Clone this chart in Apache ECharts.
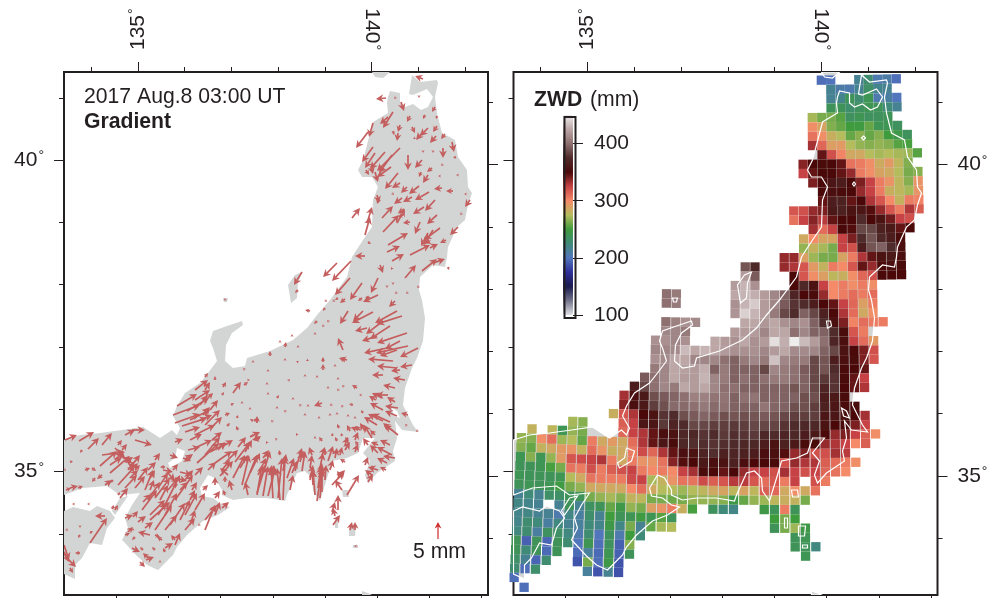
<!DOCTYPE html>
<html><head><meta charset="utf-8"><style>html,body{margin:0;background:#fff}#c{width:988px;height:598px}</style>
<script src="https://cdn.jsdelivr.net/npm/echarts@6/dist/echarts.min.js"></script></head>
<body><div id="c"></div><script>
// Map-grid units: the map's own projected grid. Both panels share the same grid extents.
const gridXRange=[64,488], gridYRange=[72,595];
const lonTicks=[134,135,136,137,138,139,140,141,142];
const latTicks=[34,35,36,37,38,39,40,41];
const zwdTicks=[100,200,300,400];
const zwdRange=[100,450];
const zwdColors=['#dfdfe6','#74748c','#1a1a4e','#2f309a','#5276bc','#3f8a78','#3f9c3c','#b5bc5c','#f58a68','#c74245','#4a0808','#4f2b2b','#8e7070','#bca6a6','#efecec'];

// Coast polygons in map-grid units
const honshu=[[388,97],[390,91],[400,93],[400,103],[405,107],[413,104],[421,110],[428,107],[433,97],[427,89],[413,95],[409,94],[412,75],[420,82],[437,80],[438,83],[435,97],[437,113],[442,133],[455,140],[458,157],[467,170],[468,187],[472,193],[468,205],[465,220],[457,227],[448,247],[447,257],[445,267],[433,265],[420,277],[419,290],[422,300],[425,318],[423,341],[417,358],[412,368],[405,388],[403,405],[413,425],[418,432],[410,431],[402,430],[395,421],[397,438],[393,451],[395,461],[377,473],[368,483],[365,475],[370,461],[363,453],[375,438],[363,438],[358,453],[347,458],[332,461],[328,475],[320,501],[313,491],[312,478],[305,471],[297,473],[287,495],[285,501],[267,498],[247,498],[233,500],[222,495],[222,490],[215,478],[208,475],[200,488],[202,496],[213,498],[222,505],[230,507],[218,515],[203,521],[187,535],[177,547],[173,555],[165,563],[158,570],[147,565],[137,556],[125,543],[122,540],[128,528],[125,518],[132,505],[140,493],[120,495],[107,486],[83,488],[64,495],[64,440],[80,435],[100,433],[122,430],[143,427],[160,438],[172,430],[177,435],[180,428],[173,416],[177,406],[185,393],[200,383],[208,373],[217,361],[213,348],[210,341],[213,331],[227,326],[242,321],[243,325],[232,333],[226,345],[225,361],[233,368],[245,366],[247,358],[270,351],[293,340],[307,328],[317,315],[330,300],[347,277],[352,257],[363,240],[372,227],[373,200],[378,187],[372,177],[362,177],[358,170],[363,160],[373,122],[388,113],[387,103]];
const shikoku=[[64,511],[73,507],[90,511],[97,506],[110,511],[115,518],[107,528],[102,545],[90,543],[82,558],[75,565],[75,579],[64,574]];
const awaji=[[120,498],[128,496],[115,515],[112,511]];
const sado=[[302,272],[298,283],[297,298],[291,303],[288,285],[295,275]];
const hokkaido=[[372,72],[390,72],[383,78],[375,77]];
const oki=[[223,298],[228,298],[227,302],[224,302]];
const oshima=[[342,490],[348,490],[349,497],[343,497]];
const niijima=[[335,518],[338,518],[338,528],[335,528]];
const miyake=[[349,526],[356,526],[355,536],[349,536]];
const mikura=[[353,545],[358,545],[358,548],[353,548]];
const hachijo=[[362,591],[368,593],[372,595],[362,595]];
const coastPolys=[honshu,shikoku,awaji,sado,hokkaido,oki,oshima,niijima,miyake,mikura,hachijo];
const lakeBiwa=[[177,448],[185,451],[182,461],[170,468],[168,463],[175,458]];
const lakeKasumi=[[392,408],[397,411],[400,418],[394,416]];
const lakeTowada=[[414,136],[416,138],[414,140],[412,138]];
const lakeTazawa=[[404.5,182],[406,184],[404.5,186],[403,184]];
const lakeInawashiro=[[377,321],[381,321],[382,326],[378,328]];
const lakes=[lakeBiwa,lakeKasumi,lakeTowada,lakeTazawa,lakeInawashiro];

// Gradient arrows: tail x, tail y, east, south in map-grid units
const arrowsTohokuN=[[423,79,-8,-3],[386,98,-10,1],[396,97,-2,2],[419,95,0,3],[401,102,3,9],[435,107,-3,5],[410,116,-3,6],[425,115,-2,4],[437,116,-1,3],[393,112,-10,16],[388,117,-8,7],[373,123,-4,14],[368,132,-12,16],[400,125,-2,7],[393,131,1,4],[398,133,-1,8],[412,127,3,6],[437,126,-4,6],[428,128,-8,8],[422,133,-6,7],[436,136,-6,7],[445,134,-4,5],[415,138,-2,1],[452,142,2,10],[443,148,0,10],[423,151,0,2],[433,151,0,2],[456,157,-3,1],[373,147,-11,15],[375,153,-10,15],[385,152,-15,17],[400,148,-23,23],[392,155,-13,18],[408,155,0,15],[422,160,-7,8],[391,167,-14,10],[375,172,3,10],[398,173,-13,16],[400,183,-8,5],[421,172,-2,5],[432,168,-5,4],[428,175,-5,8],[442,165,-1,1],[458,175,-2,0],[440,176,-2,0],[393,194,1,1],[407,187,-6,6],[419,186,-10,8],[429,192,-14,8],[412,197,-9,5],[402,198,-8,6],[442,188,-8,1],[453,191,-7,0],[467,194,-3,0],[377,195,2,8],[379,198,-2,6],[470,200,-5,7],[366,170,3,5],[371,166,2,8]];
const arrowsTohokuS=[[352,218,8,-10],[367,223,5,-16],[365,235,5,-18],[382,218,11,-12],[383,232,16,-17],[397,223,8,-14],[435,200,-10,11],[424,207,-11,7],[437,215,-10,9],[404,209,-6,4],[410,222,-7,1],[403,215,-5,2],[462,213,-2,2],[420,222,-5,12],[458,227,-8,8],[440,228,-16,12],[433,230,-9,15],[388,245,20,-12],[387,252,13,-6],[392,261,12,-7],[410,255,20,-10],[428,233,-7,13],[430,248,8,-4],[425,240,6,4],[446,240,-6,3],[368,242,3,2],[365,256,-10,0],[405,278,11,-13],[422,271,15,-12],[433,263,12,-4],[380,265,3,8],[392,268,-1,2],[448,267,1,3],[337,263,-14,14],[351,261,-19,20],[350,278,-15,17],[362,283,-12,17],[378,278,-7,15],[387,285,0,3],[393,283,0,2],[302,272,-8,13],[298,290,-3,3],[378,295,-15,7],[396,293,-1,1],[407,293,-1,1],[418,287,-1,1],[345,299,-5,4],[325,300,2,2],[338,298,-3,2],[362,298,-4,3],[370,298,-5,-1],[225,299,0,-1]];
const arrowsKanto=[[348,311,-8,13],[373,312,-21,11],[363,311,-10,10],[397,311,-22,12],[402,316,-25,8],[395,301,-6,6],[383,321,-17,13],[390,326,-20,13],[407,333,-30,10],[400,341,-15,8],[408,346,-32,7],[418,348,-18,9],[397,350,-17,6],[343,350,-5,-12],[347,360,-7,-2],[367,328,-12,3],[377,336,-15,5],[387,348,-23,5],[393,361,-25,-2],[397,368,-20,-2],[400,370,-9,1],[412,365,-12,2],[405,380,-12,-2],[395,388,-12,-3],[383,375,-11,0],[388,395,-12,0],[382,398,-10,-5],[408,415,-7,-2],[383,410,-13,-7],[398,408,-13,-2],[397,416,-12,-5],[383,421,-15,-7],[398,435,-15,-12],[390,422,-18,-8],[377,425,-13,-8],[372,438,-8,-13],[358,430,-7,-3],[417,431,-1,1],[407,426,-2,-2],[390,445,-10,-5],[378,445,-7,-3],[392,455,-15,-8],[395,458,-12,-2],[387,463,-10,-5],[378,470,-10,-3],[372,475,-7,-5],[386,470,-6,-3],[395,402,-8,-5],[376,400,-7,-4],[392,430,-8,-4]];
const arrowsCentral=[[270,356,0,-5],[285,347,1,-5],[292,336,0,-2],[280,341,0,-1],[253,361,0,-1],[245,370,-2,-2],[268,371,0,-2],[285,360,0,-2],[297,362,2,-1],[308,360,-2,1],[323,362,0,-5],[323,370,0,-6],[335,365,0,-1],[345,360,-6,-2],[315,333,0,-1],[298,346,0,-1],[323,326,-1,1],[317,321,-3,3],[328,321,-1,-1],[310,311,-5,-1],[325,308,-2,3],[333,300,2,2],[248,380,2,0],[267,383,0,-1],[305,376,0,-2],[317,376,0,-1],[338,378,0,-1],[343,386,-1,-1],[328,388,0,-2],[357,388,-5,-3],[268,393,0,-1],[277,398,2,-3],[293,398,0,-1],[300,405,-1,-1],[277,408,0,-2],[285,411,-1,-1],[308,405,0,-1],[322,403,-8,3],[342,406,-1,-1],[353,405,-4,-1],[305,415,0,-2],[319,418,0,-2],[330,415,0,-2],[337,413,0,-1],[348,416,0,-2],[355,418,0,-2],[363,413,-2,-3],[223,387,3,-5],[222,395,2,-3],[233,393,8,-11],[231,405,3,-2],[242,403,0,-2],[250,408,0,-1],[253,421,-3,-2],[257,423,0,-7],[237,418,1,-3],[227,426,3,-3],[238,430,-2,-4],[252,436,1,-2],[260,438,-8,2],[267,443,-1,-2],[277,440,-2,-2],[297,435,-1,-2],[322,441,-3,-4],[332,436,1,-3],[342,436,-1,-3],[350,431,-3,-6],[360,430,-5,-4],[365,431,-5,-8],[375,435,-5,-5],[339,428,-2,-4],[315,438,0,-2],[348,441,-3,-4],[358,445,-3,-4],[337,441,-2,-4],[205,377,3,-4],[215,380,0,-4],[244,385,4,-3],[258,420,-5,0],[272,421,-1,-1],[289,380,1,-1],[338,390,-1,1],[360,395,-1,0],[331,405,-1,1]];
const arrowsSouth=[[283,500,2,-43],[280,500,-3,-32],[278,498,4,-40],[273,498,-2,-30],[268,496,7,-28],[263,496,5,-30],[257,495,5,-30],[257,493,13,-42],[248,495,-3,-13],[245,485,12,-30],[242,485,7,-30],[233,478,12,-23],[287,478,7,-20],[295,471,7,-23],[302,471,3,-20],[310,468,2,-13],[292,473,5,-12],[320,468,3,-15],[328,461,5,-15],[335,458,2,-10],[270,475,2,-10],[283,471,3,-17],[258,475,8,-17],[250,473,10,-20],[240,468,8,-13],[317,501,5,-33],[320,498,2,-28],[315,495,-2,-25],[322,492,0,-25],[318,488,3,-22],[325,480,1,-15],[313,485,-1,-15],[320,475,2,-12],[332,485,12,-13],[347,495,12,-20],[342,490,-7,-10],[338,478,7,-8],[342,478,-5,-7],[333,525,7,-10],[335,516,-2,-8],[338,510,0,-15],[332,512,3,-10],[350,530,2,-8],[355,530,0,-8],[355,546,-1,0],[378,453,-8,-8],[365,465,3,-8],[368,482,5,-8],[372,470,0,-5],[345,450,5,-8],[355,452,3,-8],[345,462,-5,-3],[312,455,-3,-8],[322,455,3,-8],[300,457,4,-6],[280,455,-1,-5],[263,458,6,-8],[260,480,5,-15],[272,485,2,-20],[290,490,3,-15],[300,462,3,-10],[310,480,3,-15],[330,470,3,-10],[345,445,3,-8],[340,455,2,-8],[355,440,3,-8],[368,445,-5,-7],[325,455,0,-6]];
const arrowsChubuW=[[173,415,27,-10],[175,423,25,-9],[182,426,25,-8],[177,406,20,-12],[187,411,22,-13],[195,390,13,-10],[205,390,5,-8],[208,398,5,-5],[203,415,7,-8],[190,420,20,-10],[200,420,12,-5],[205,425,15,-15],[212,427,10,-10],[225,415,5,-2],[195,435,20,-10],[185,432,15,-5],[175,442,8,-3],[188,450,12,-3],[197,447,15,-7],[205,455,15,-18],[197,463,22,-20],[215,463,17,-12],[225,445,8,-5],[238,447,8,-10],[226,462,12,-12],[210,452,17,-9],[235,462,15,-20],[245,452,7,-12],[255,440,6,-4],[228,475,-8,-7],[232,490,-3,-10],[225,482,0,-6],[173,470,5,-6],[170,455,8,3],[183,458,8,3],[220,476,13,-15],[250,437,10,-5],[200,405,8,-10],[210,410,8,-10],[195,400,15,-10],[190,440,12,-6],[212,440,10,-8],[218,450,7,-8],[222,470,8,-10],[208,470,8,-8],[215,485,0,-8],[225,495,-2,-5]];
const arrowsKinki=[[65,440,12,-5],[79,441,15,-9],[88,449,11,-11],[102,445,10,-12],[125,435,10,-5],[132,430,13,0],[135,440,17,5],[100,466,17,-15],[102,455,23,-3],[110,473,20,-17],[118,485,20,-22],[115,448,10,10],[120,455,12,8],[128,462,6,10],[82,450,-2,3],[70,462,3,-1],[65,470,1,1],[92,468,4,3],[102,475,-5,4],[113,480,-3,3],[128,470,12,-15],[138,480,10,-13],[148,470,8,-8],[155,460,5,-7],[165,467,-5,0],[125,488,12,-13],[145,490,8,-20],[158,488,10,-15],[163,470,10,2],[150,478,5,-8],[168,473,7,8],[175,478,12,3],[180,472,12,3],[155,498,15,-20],[165,505,15,-30],[175,500,18,-25],[185,480,8,-10],[192,490,5,-8],[142,510,15,-20],[150,520,20,-18],[155,530,17,-25],[170,525,15,-22],[185,515,12,-22],[195,510,10,-17],[205,520,12,-15],[215,515,5,-13],[205,530,10,-25],[200,524,-2,2],[215,498,5,-7],[222,508,7,-6],[190,500,5,-10],[168,490,10,-12],[138,522,8,-6],[125,518,8,-3],[145,528,8,-6],[128,532,5,-5],[133,517,5,-6],[133,530,0,-2],[150,515,15,-15],[143,502,8,-8],[165,530,12,-15],[175,545,5,-12],[185,530,10,-12],[165,548,8,-5],[155,535,5,2],[132,548,8,4],[150,535,-12,-3],[155,550,-3,-3],[135,537,-3,3],[143,550,-3,-3],[125,535,5,-2],[148,558,-5,-5],[146,560,8,-3],[140,562,5,5],[165,552,-2,-4],[162,540,-5,-3],[175,540,-4,-5],[160,562,0,-2],[110,465,12,-8],[115,460,8,-8],[122,450,5,-6],[118,445,4,-5],[125,462,8,-5],[130,465,5,-3],[135,470,5,-5],[130,478,8,-8],[135,488,10,-12],[105,485,7,-5],[95,478,-3,4],[85,470,5,-2],[120,498,8,-10],[115,510,3,-5],[148,500,12,-18],[150,490,4,-10],[160,500,8,-15],[165,515,12,-22],[158,515,8,-12],[180,520,10,-20],[190,525,5,-15],[180,490,8,-8],[173,487,5,-3],[195,475,8,-8],[203,490,5,-5],[185,460,8,-6]];
const arrowsShikoku=[[90,543,17,-25],[105,516,-10,0],[80,525,0,3],[80,535,-2,3],[90,533,3,-2],[67,530,1,1],[64,552,5,10],[66,557,10,10],[70,568,3,5],[80,553,-5,0],[64,545,5,15],[78,510,0,0],[88,504,-1,0],[73,504,-1,0],[66,490,5,-2],[70,488,8,-2],[78,488,5,-2],[112,509,2,-4],[118,495,2,-3]];
const legendArrow=[[438,539,0,-17]];

// ZWD cells: latitude, first longitude, values in mm (null: no cell)
const zwdRows=[
[41.40,140.0,[197,199]],[41.40,140.8,[215,228,205,208,198]],
[41.25,140.2,[215,208,205,215,232,218,215]],
[41.10,140.2,[215,218,238,228,240,205,210,200]],
[40.95,140.2,[238,238,230,236,240,238,225,215]],
[40.80,139.8,[272,262,262,255,235,240,236,236,238]],
[40.65,139.8,[298,288,264,258,250,248,258,240,240,236]],
[40.50,139.8,[308,298,282,275,258,266,258,265,250,245,236]],
[40.35,139.8,[332,312,290,292,275,268,265,268,265,255,252]],
[40.20,140.0,[345,320,302,285,285,275,272,275,272,270,255]],
[40.05,139.6,[338,350,352,350,345,308,305,298,284,292,278,264]],
[39.90,139.6,[325,345,350,350,345,335,305,298,288,285,275,262,265]],
[39.75,139.8,[340,350,360,365,350,340,325,305,295,278,265,295]],
[39.60,140.0,[350,355,352,350,335,325,305,282,278,272,295]],
[39.45,140.0,[345,365,368,345,350,330,318,300,280,305,302]],
[39.30,139.4,[318,320,335,340,362,368,358,360,348,335,318,305,330,315]],
[39.15,139.4,[308,325,338,328,345,350,350,375,350,358,342,325,320]],
[39.00,139.8,[332,310,325,350,348,385,385,368,362,345,350]],
[38.85,139.6,[285,300,288,288,325,340,375,390,372,365,352]],
[38.70,139.6,[268,280,272,262,325,320,365,390,395,375,355]],
[38.55,139.2,[335,335,290,270,262,262,288,305,330,345,358,362,355]],
[38.40,138.4,[390,372]],[38.40,139.2,[335,330,318,292,280,305,300,318,345,335,350,355,352]],
[38.25,138.4,[420,392]],[38.25,139.4,[350,318,298,290,278,282,298,312,320,350,350,350]],
[38.10,138.2,[420,430,415]],[38.10,139.4,[350,372,358,325,300,305,298,305,298]],
[37.95,136.8,[400,405]],[37.95,138.2,[425,430,428,420,410,395,370,350,352,335,300,305,310,305,310]],
[37.80,136.8,[400,405]],[37.80,138.2,[415,430,438,420,410,392,378,375,365,350,345,325,312,290,305]],
[37.65,138.2,[417,440,430,420,405,385,375,395,385,368,350,330,310,285,298]],
[37.50,136.8,[400,408,415,412]],[37.50,138.4,[425,425,418,425,415,410,415,395,375,355,340,302,310,305,305]],
[37.35,136.8,[410,410,405]],[37.35,138.2,[420,420,420,410,425,425,400,410,395,395,375,352,318,305]],
[37.20,136.6,[415,415,410,415]],[37.20,137.8,[425,420,415,425,415,420,445,428,450,432,420,400,370,355,325,310,292]],
[37.05,136.6,[410,410,412,432,425,430,425,420,415,415,415,410,420,425,412,412,410,395,385,358,350,340,320]],
[36.90,136.6,[415,412,425,425,410,410,410,400,395,405,410,405,435,410,405,405,385,390,365,355,352,340,318]],
[36.75,136.6,[405,410,425,422,420,428,395,405,395,395,395,385,410,405,400,392,385,390,375,352,350,345]],
[36.60,136.4,[392,400,410,425,420,420,430,410,405,395,400,395,400,405,405,400,395,385,380,378,352,345,325]],
[36.45,136.2,[365,385,400,410,405,425,420,425,410,400,400,395,395,395,395,395,390,395,385,370,378,350,345,330]],
[36.30,136.0,[332,355,362,388,392,396,400,408,408,402,402,395,400,402,395,396,395,395,388,388,365,362,352]],
[36.15,136.0,[338,355,362,382,388,398,398,400,404,398,400,395,395,395,402,396,395,388,388,382,368,360,352,352]],
[36.00,135.8,[282,318,330,350,358,378,375,388,392,396,392,388,390,388,390,392,390,385,382,382,382,360,360,356,350,332]],
[35.85,135.0,[272,265]],[35.85,136.0,[315,325,360,360,380,370,375,385,385,382,382,380,382,385,385,384,378,375,372,372,358,350,350,340,325]],
[35.70,134.2,[280]],[35.70,134.6,[278,240,268,262]],[35.70,136.0,[312,325,330,345,355,358,372,372,378,375,380,376,378,380,372,375,370,372,365,362,350,335,340,325,315,298]],
[35.55,134.0,[268,265,298,310,270,275,258,305,285,292,285,310,330,345,360,352,372,376,376,378,376,374,372,372,365,358,368,362,352,352,335,330,325,300,315]],
[35.40,134.0,[265,258,280,285,292,295,280,310,295,282,285,305,322,312,330,345,355,358,370,376,368,370,368,365,355,356,348,335,340,320,320,332,328]],
[35.25,134.0,[240,265,240,268,292,318,322,325,330,305,285,305,295,295,308,338,348,350,362,355,358,368,355,350,350,352,320,335,330,330,315,310,305,298]],
[35.10,134.0,[238,238,240,252,262,308,305,320,305,315,320,325,305,300,305,300,325,332,352,350,345,350,335,325,325,320,332,325,320,325,312,308,300]],
[34.95,134.0,[240,238,238,238,240,275,285,308,305,305,305,322,325,272,280,295,308,308,322,315,318,328,328,318,310,318,305,325,null,320,305]],
[34.80,134.0,[238,240,238,240,248,262,268,285,285,285,285,300,310,285,275,275,270,275,278,285,288,278,288,278,315,312,285,298,285,308]],
[34.65,134.0,[215,225,215,232,232,238,238,262,268,272,265,280,278,262,262,260,262,268,268,268,265,245,258,268,270,278,282,280,262]],
[34.50,134.0,[220,218,215,null,215,238,215,235,238,258,245,268,262,290,295,305,282,252,null,236,225,220,null,null,245,238,305,238]],
[34.35,134.0,[218,220,215,215,205,220,210,230,215,250,238,240,248,240,255,238]],[34.35,139.0,[250,262,250]],
[34.20,134.0,[218,228,225,210,222,215,212,225,218,245,220,262,215,258,272,275]],[34.20,139.0,[238,262,270,245]],
[34.05,134.0,[222,228,210,235,232,222,205,228,200,236,205,250,225]],[34.05,139.4,[238,240]],
[33.90,134.0,[238,192,238,194,238,228,200,240,198,236,192,265]],[33.90,139.4,[238,238,222]],
[33.75,134.0,[238,225,238,196,238,null,196,212,196,240,193,238]],[33.75,139.6,[240]],
[33.60,134.0,[232,215,194,228,null,null,188,262,197,245,188]],
[33.45,134.0,[228,197,230]],[33.45,135.4,[212,188,215,187]],
[33.30,134.0,[197]],[33.15,134.2,[198]]
];

// Conic map projection into map-grid units
const cone=0.5976, deg=Math.PI/180, apexY=-4410, midX=325;
const radius=lat=>4577.5+62.2*(40-lat);
const project=(lon,lat)=>{const t=cone*(lon-139)*deg,R=radius(lat);return [midX+R*Math.sin(t),apexY+R*Math.cos(t)];};
const meridianX=(lon,y)=>midX+(y-apexY)*Math.tan(cone*(lon-139)*deg);
const parallelY=(lat,x)=>{const R=radius(lat),d=x-midX;return apexY+Math.sqrt(R*R-d*d);};

const cells=[];
zwdRows.forEach(([lat,lon0,vals])=>vals.forEach((v,i)=>{if(v!=null){const p=project(lon0+0.2*i,lat);cells.push([p[0],p[1],v]);}}));

const INK='#231f20', ARROW='#c45e5e', FONT='"Liberation Sans",Helvetica,Arial,sans-serif';
const rich={v:{fontSize:21,color:INK,fontFamily:FONT},d:{fontSize:14,color:INK,fontFamily:FONT,verticalAlign:'top',padding:[0,0,6,1]}};
const deglabel=v=>'{v|'+v+'}{d|°}';
const xAxes=[],yAxes=[];
function baseAxes(g){
  xAxes.push({gridIndex:g,type:'value',min:gridXRange[0],max:gridXRange[1],show:false});
  yAxes.push({gridIndex:g,type:'value',min:gridYRange[0],max:gridYRange[1],inverse:true,show:false});
}
function xTick(g,pos,vals,len,label){
  const map={};vals.forEach(([pv,txt])=>map[pv]=txt);
  xAxes.push({gridIndex:g,type:'value',min:gridXRange[0],max:gridXRange[1],position:pos,splitLine:{show:false},
    axisLine:{show:false,onZero:false},
    axisTick:{show:true,length:len,customValues:vals.map(v=>v[0]),lineStyle:{color:INK,width:1}},
    axisLabel:label?{show:true,customValues:vals.map(v=>v[0]),rotate:label.rotate,margin:label.margin,rich,formatter:v=>deglabel(map[v]),hideOverlap:false,showMinLabel:true,showMaxLabel:true}:{show:false}});
}
function yTick(g,pos,vals,len,label){
  const map={};vals.forEach(([pv,txt])=>map[pv]=txt);
  yAxes.push({gridIndex:g,type:'value',min:gridYRange[0],max:gridYRange[1],inverse:true,position:pos,splitLine:{show:false},
    axisLine:{show:false,onZero:false},
    axisTick:{show:true,length:len,customValues:vals.map(v=>v[0]),lineStyle:{color:INK,width:1}},
    axisLabel:label?{show:true,customValues:vals.map(v=>v[0]),margin:label.margin,rich,formatter:v=>deglabel(map[v]),hideOverlap:false}:{show:false}});
}
const edgeL=gridXRange[0],edgeR=gridXRange[1],edgeT=gridYRange[0],edgeB=gridYRange[1];
[0,1].forEach(g=>{
  baseAxes(g);
  xTick(g,'top',lonTicks.map(l=>[meridianX(l,edgeT),l]),5);
  xTick(g,'top',[[meridianX(135,edgeT),135]],10,{rotate:-90,margin:22});
  xTick(g,'top',[[meridianX(140,edgeT),140]],10,{rotate:90,margin:22});
  xTick(g,'bottom',lonTicks.map(l=>[meridianX(l,edgeB),l]),5);
  yTick(g,'left',latTicks.map(l=>[parallelY(l,edgeL),l]),5);
  yTick(g,'left',[40,35].map(l=>[parallelY(l,edgeL),l]),10,g===0?{margin:20}:null);
  yTick(g,'right',latTicks.map(l=>[parallelY(l,edgeR),l]),5);
  yTick(g,'right',[40,35].map(l=>[parallelY(l,edgeR),l]),10,g===1?{margin:20}:null);
});
const axisOfGrid={0:0,1:xAxes.findIndex(a=>a.gridIndex===1)};
const yAxisOfGrid={0:0,1:yAxes.findIndex(a=>a.gridIndex===1)};
// Colour bar axes
xAxes.push({gridIndex:2,type:'value',show:false,min:0,max:1});
yAxes.push({gridIndex:2,type:'value',min:zwdRange[0],max:zwdRange[1],position:'right',splitLine:{show:false},axisLine:{show:false,onZero:false},
  axisTick:{show:true,length:10,customValues:zwdTicks,lineStyle:{color:INK,width:1}},
  axisLabel:{show:true,customValues:zwdTicks,margin:21,fontSize:21,color:INK,fontFamily:FONT}});

function polySeries(g,polys,fill,stroke,lw,z){
  return {type:'custom',xAxisIndex:axisOfGrid[g],yAxisIndex:yAxisOfGrid[g],z,clip:true,silent:true,animation:false,
    data:polys.map((p,i)=>[p[0][0],p[0][1],i]),encode:{x:0,y:1},
    renderItem(params,api){
      const pts=polys[api.value(2)].map(q=>api.coord(q));
      return {type:'polygon',shape:{points:pts},style:{fill:fill,stroke:stroke||null,lineWidth:lw||0}};
    }};
}
function arrowSeries(g,data,color,lw,z,hmax){
  return {type:'custom',xAxisIndex:axisOfGrid[g],yAxisIndex:yAxisOfGrid[g],z,clip:true,silent:true,animation:false,
    data,encode:{x:0,y:1},
    renderItem(params,api){
      const x=api.value(0),y=api.value(1),dx=api.value(2),dy=api.value(3);
      const a=api.coord([x,y]),b=api.coord([x+dx,y+dy]);
      let ux=b[0]-a[0],uy=b[1]-a[1];const L=Math.hypot(ux,uy)||1;ux/=L;uy/=L;
      const h=Math.min(hmax,Math.max(3,L*0.85)),w=h*0.52,nx=-uy,ny=ux;
      const base=[b[0]-ux*h,b[1]-uy*h],notch=[b[0]-ux*h*0.7,b[1]-uy*h*0.7];
      const kids=[];
      if(L>h)kids.push({type:'line',shape:{x1:a[0],y1:a[1],x2:notch[0],y2:notch[1]},style:{stroke:color,lineWidth:lw}});
      kids.push({type:'polygon',shape:{points:[b,[base[0]+nx*w,base[1]+ny*w],notch,[base[0]-nx*w,base[1]-ny*w]]},style:{fill:color}});
      return {type:'group',children:kids};
    }};
}
const allArrows=[].concat(arrowsTohokuN,arrowsTohokuS,arrowsKanto,arrowsCentral,arrowsSouth,arrowsChubuW,arrowsKinki,arrowsShikoku);
const series=[
  polySeries(0,coastPolys,'#d3d5d5',null,0,1),
  polySeries(0,lakes.slice(0,2),'#ffffff',null,0,1.5),
  arrowSeries(0,allArrows,ARROW,1.7,3,7.5),
  arrowSeries(0,legendArrow,'#cf2a2a',1.2,3,6.5),
  polySeries(1,coastPolys,'#d3d5d5',null,0,1),
  {type:'scatter',xAxisIndex:axisOfGrid[1],yAxisIndex:yAxisOfGrid[1],z:2,clip:true,silent:true,animation:false,
    symbol:'rect',symbolSize:[9.3,9.3],itemStyle:{opacity:1},data:cells,encode:{x:0,y:1}},
  polySeries(1,coastPolys,'none','#ffffff',1.2,3),
  polySeries(1,lakes,'none','#ffffff',1.2,3)
];
const zwdIndex=series.findIndex(s=>s.type==='scatter');
const txt=(x,y,t,o)=>({type:'text',left:x,top:y,z:20,style:Object.assign({text:t,fontFamily:FONT,fontSize:21.2,fill:INK},o||{})});
const chart=echarts.init(document.getElementById('c'),null,{renderer:'canvas'});
chart.setOption({
  animation:false,backgroundColor:'#fff',
  grid:[
   {left:64,top:72,width:424,height:523,show:true,borderColor:INK,borderWidth:2,backgroundColor:'#fff',z:0,outerBoundsMode:'none'},
   {left:513.5,top:72,width:424,height:523,show:true,borderColor:INK,borderWidth:2,backgroundColor:'#fff',z:0,outerBoundsMode:'none'},
   {left:563,top:115,width:10,height:200,show:false,outerBoundsMode:'none'}
  ],
  xAxis:xAxes,yAxis:yAxes,series,
  visualMap:[{type:'continuous',seriesIndex:zwdIndex,dimension:2,min:zwdRange[0],max:zwdRange[1],inRange:{color:zwdColors},
    left:563,top:115,itemWidth:10,itemHeight:200,text:null,showLabel:false,calculable:false,padding:0,borderWidth:0,z:5}],
  graphic:[
    txt(84,87,'2017 Aug.8 03:00 UT'),
    txt(84,112,'Gradient',{fontWeight:'bold'}),
    txt(534,90,'ZWD',{fontWeight:'bold'}),
    txt(590,90,'(mm)'),
    txt(413,542,'5 mm'),
    {type:'rect',left:562,top:114.5,z:21,shape:{width:11,height:201},style:{fill:'none',stroke:INK,lineWidth:2}}
  ]
});
</script></body></html>
